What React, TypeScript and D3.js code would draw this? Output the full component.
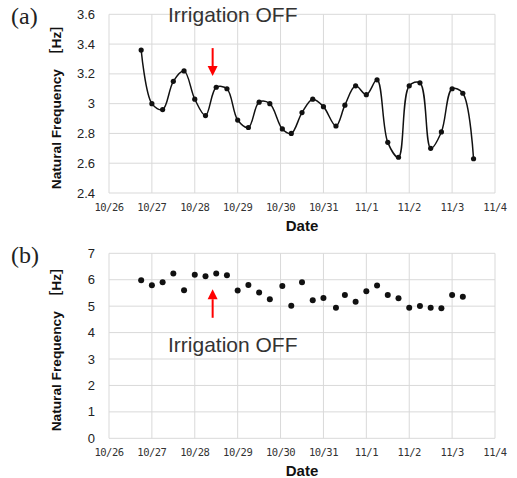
import { useMemo } from 'react';
import * as d3 from 'd3';

// (a) time series, every 6 hours
const timesA = [
  '10/26 18:00', '10/27 00:00', '10/27 06:00', '10/27 12:00', '10/27 18:00', '10/28 00:00',
  '10/28 06:00', '10/28 12:00', '10/28 18:00', '10/29 00:00', '10/29 06:00', '10/29 12:00',
  '10/29 18:00', '10/30 01:00', '10/30 06:00', '10/30 12:00', '10/30 18:00', '10/31 00:00',
  '10/31 07:00', '10/31 12:00', '10/31 18:00', '11/01 00:00', '11/01 06:00', '11/01 12:00',
  '11/01 18:00', '11/02 00:00', '11/02 06:00', '11/02 12:00', '11/02 18:00', '11/03 00:00',
  '11/03 06:00', '11/03 12:00'
];
const valuesA = [
  3.36, 3.0, 2.96, 3.15, 3.22, 3.03, 2.92, 3.11, 3.1, 2.89, 2.84, 3.01, 3.0, 2.83, 2.8, 2.94,
  3.03, 2.98, 2.85, 2.99, 3.12, 3.06, 3.16, 2.74, 2.64, 3.12, 3.14, 2.7, 2.81, 3.1, 3.07, 2.63
];

// (b) scatter
const timesB = [
  '10/26 18:00', '10/27 00:00', '10/27 06:00', '10/27 12:00', '10/27 18:00', '10/28 00:00',
  '10/28 06:00', '10/28 12:00', '10/28 18:00', '10/29 00:00', '10/29 06:00', '10/29 12:00',
  '10/29 18:00', '10/30 01:00', '10/30 06:00', '10/30 12:00', '10/30 18:00', '10/31 00:00',
  '10/31 07:00', '10/31 12:00', '10/31 18:00', '11/01 00:00', '11/01 06:00', '11/01 12:00',
  '11/01 18:00', '11/02 00:00', '11/02 06:00', '11/02 12:00', '11/02 18:00', '11/03 00:00',
  '11/03 06:00'
];
const valuesB = [
  5.98, 5.79, 5.9, 6.24, 5.6, 6.19, 6.13, 6.24, 6.17, 5.59, 5.8, 5.52, 5.26, 5.76, 5.02, 5.9,
  5.22, 5.31, 4.94, 5.42, 5.17, 5.56, 5.78, 5.42, 5.3, 4.94, 5.01, 4.94, 4.92, 5.42, 5.36
];

const dayTicks = ['10/26', '10/27', '10/28', '10/29', '10/30', '10/31', '11/1', '11/2', '11/3', '11/4'];
const ticksA = [2.4, 2.6, 2.8, 3, 3.2, 3.4, 3.6];
const ticksB = [0, 1, 2, 3, 4, 5, 6, 7];

const parseTime = d3.timeParse('%m/%d %H:%M');
const parseDay = d3.timeParse('%m/%d');

const annotationTime = '10/28 10:00';
const annotationTextTime = '10/27 09:00';

const sans = '"Liberation Sans", Arial, "Noto Sans CJK JP", sans-serif';
const tickFont = '"DejaVu Sans Mono", "Noto Sans CJK JP", monospace';
const gridColor = '#d9d9d9';

function Panel({ top, bottom, yDomain, yTicks, yFormat, tag, children }) {
  const x = d3
    .scaleTime()
    .domain([parseDay(dayTicks[0]), parseDay(dayTicks[dayTicks.length - 1])])
    .range([109, 495]);
  const y = d3.scaleLinear().domain(yDomain).range([bottom, top]);
  const [x0, x1] = x.range();
  const midY = (top + bottom) / 2;

  return (
    <g>
      <text x={11} y={top + 10} fontFamily='"Liberation Serif", "DejaVu Serif", serif' fontSize={24} fill="#222">
        {tag}
      </text>
      {yTicks.map((t) => (
        <line key={`h${t}`} x1={x0} x2={x1} y1={y(t)} y2={y(t)} stroke={gridColor} strokeWidth={1} />
      ))}
      {dayTicks.map((d) => (
        <line key={`v${d}`} x1={x(parseDay(d))} x2={x(parseDay(d))} y1={top} y2={bottom} stroke={gridColor} strokeWidth={1} />
      ))}
      {yTicks.map((t) => (
        <text key={`yl${t}`} x={95} y={y(t)} dy="0.35em" textAnchor="end" fontFamily={sans} fontSize={13} fill="#222">
          {yFormat(t)}
        </text>
      ))}
      {dayTicks.map((d) => (
        <text key={`xl${d}`} x={x(parseDay(d))} y={bottom + 18} textAnchor="middle" fontFamily={tickFont} fontSize={10.5} fill="#333" letterSpacing={-0.5}>
          {d}
        </text>
      ))}
      <text x={(x0 + x1) / 2} y={bottom + 38} textAnchor="middle" fontFamily={sans} fontWeight="bold" fontSize={15} fill="#111">
        Date
      </text>
      <text
        transform={`translate(61,${midY}) rotate(-90)`}
        textAnchor="middle"
        fontFamily={sans}
        fontWeight="bold"
        fontSize={13.7}
        fill="#111"
      >
        Natural Frequency　［Hz］
      </text>
      {children(x, y)}
    </g>
  );
}

function Arrow({ x, yFrom, yTo }) {
  const dir = yTo > yFrom ? 1 : -1;
  const head = 10;
  return (
    <g>
      <line x1={x} x2={x} y1={yFrom} y2={yTo - dir * head} stroke="#ff0000" strokeWidth={2} />
      <path d={`M${x - 5},${yTo - dir * head} L${x + 5},${yTo - dir * head} L${x},${yTo} Z`} fill="#ff0000" />
    </g>
  );
}

export default function App() {
  const seriesA = useMemo(() => timesA.map((t, i) => ({ t: parseTime(t), v: valuesA[i] })), []);
  const seriesB = useMemo(() => timesB.map((t, i) => ({ t: parseTime(t), v: valuesB[i] })), []);

  return (
    <svg width={517} height={478} style={{ position: 'absolute', left: 0, top: 0, background: '#fff' }}>
      <Panel top={14.3} bottom={193} yDomain={[2.4, 3.6]} yTicks={ticksA} yFormat={(t) => (t === 3 ? '3' : t.toFixed(1))} tag="(a)">
        {(x, y) => {
          const line = d3
            .line()
            .x((d) => x(d.t))
            .y((d) => y(d.v))
            .curve(d3.curveCatmullRom.alpha(0.5));
          const ax = x(parseTime(annotationTime));
          return (
            <g>
              <path d={line(seriesA) || ''} fill="none" stroke="#111" strokeWidth={1.5} />
              {seriesA.map((d, i) => (
                <circle key={i} cx={x(d.t)} cy={y(d.v)} r={2.6} fill="#111" />
              ))}
              <text x={x(parseTime(annotationTextTime))} y={y(3.547)} fontFamily={sans} fontSize={21} fill="#333">
                Irrigation OFF
              </text>
              <Arrow x={ax} yFrom={y(3.373)} yTo={y(3.185)} />
            </g>
          );
        }}
      </Panel>
      <Panel top={253.3} bottom={438.3} yDomain={[0, 7]} yTicks={ticksB} yFormat={(t) => String(t)} tag="(b)">
        {(x, y) => {
          const ax = x(parseTime(annotationTime));
          return (
            <g>
              {seriesB.map((d, i) => (
                <circle key={i} cx={x(d.t)} cy={y(d.v)} r={3} fill="#111" />
              ))}
              <Arrow x={ax} yFrom={y(4.56)} yTo={y(5.64)} />
              <text x={x(parseTime(annotationTextTime))} y={y(3.28)} fontFamily={sans} fontSize={21} fill="#333">
                Irrigation OFF
              </text>
            </g>
          );
        }}
      </Panel>
    </svg>
  );
}
